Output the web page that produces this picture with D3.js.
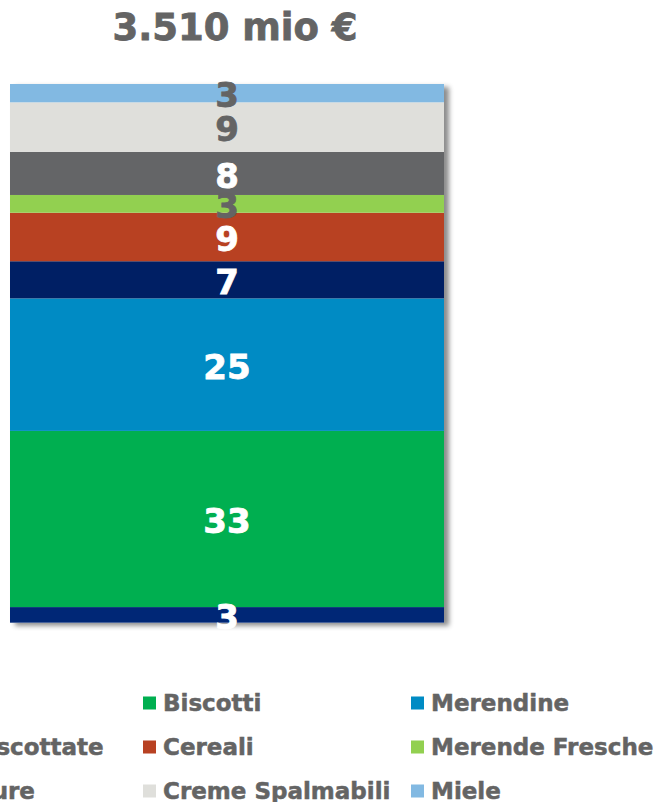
<!DOCTYPE html>
<html>
<head>
<meta charset="utf-8">
<script src="https://cdn.jsdelivr.net/npm/d3@7"></script>
<style>
  body { margin: 0; background: #fff; }
  svg { display: block; font-family: "DejaVu Sans", Verdana, sans-serif; font-weight: bold; }
</style>
</head>
<body>
<script>
// series, bottom to top (share of value, %)
var categories = ["Cracker", "Biscotti", "Merendine", "Fette Biscottate", "Cereali",
  "Merende Fresche", "Confetture", "Creme Spalmabili", "Miele"];
var values = [2.9, 32.7, 24.6, 6.9, 9.0, 3.3, 8.0, 9.2, 3.4];
var title = "3.510 mio €";

var colors = ["#002776", "#00AF50", "#008BC4", "#001F64", "#B84122",
  "#92D050", "#646567", "#DFDFDB", "#82B9E2"];
var darkLabel = ["Merende Fresche", "Creme Spalmabili", "Miele"];

var W = 661, H = 802;
var svg = d3.select("body").append("svg").attr("width", W).attr("height", H);

var defs = svg.append("defs");
var f = defs.append("filter").attr("id", "shadow")
  .attr("x", "-10%").attr("y", "-10%").attr("width", "130%").attr("height", "130%");
f.append("feDropShadow").attr("dx", 5).attr("dy", 3).attr("stdDeviation", 2.5)
  .attr("flood-color", "#000").attr("flood-opacity", 0.45);

var x = d3.scaleBand().domain(["tot"]).range([10, 444]).padding(0);
var y = d3.scaleLinear().domain([0, 100]).range([622.7, 84]);
var color = d3.scaleOrdinal().domain(categories).range(colors);

var stacked = [];
var acc = 0;
categories.forEach(function(c, i) {
  stacked.push({ cat: c, v: values[i], y0: acc, y1: acc + values[i] });
  acc += values[i];
});
y.domain([0, acc]);

svg.append("text")
  .attr("x", 235).attr("y", 40)
  .attr("text-anchor", "middle")
  .attr("font-size", 37)
  .attr("fill", "#646464")
  .attr("stroke", "#646464").attr("stroke-width", 0.8)
  .text(title);

// shadow behind bar
svg.append("rect")
  .attr("x", x("tot")).attr("width", x.bandwidth())
  .attr("y", y(acc)).attr("height", y(0) - y(acc))
  .attr("fill", "#fff")
  .attr("filter", "url(#shadow)");

var bar = svg.append("g");
bar.selectAll("rect").data(stacked).enter().append("rect")
  .attr("x", x("tot"))
  .attr("width", x.bandwidth())
  .attr("y", function(d) { return y(d.y1); })
  .attr("height", function(d) { return y(d.y0) - y(d.y1); })
  .attr("fill", function(d) { return color(d.cat); });

function labColor(d) { return darkLabel.indexOf(d.cat) >= 0 ? "#646464" : "#fff"; }
bar.selectAll("text").data(stacked).enter().append("text")
  .attr("x", x("tot") + x.bandwidth() / 2)
  .attr("y", function(d) { return (y(d.y0) + y(d.y1)) / 2; })
  .attr("dy", "0.42em")
  .attr("text-anchor", "middle")
  .attr("font-size", 34)
  .attr("fill", labColor)
  .attr("stroke", labColor).attr("stroke-width", 0.8)
  .text(function(d) { return d3.format(".0f")(d.v); });

// legend, 3 columns, row-major
var colX = [-125, 143, 411];
var rowY = [703, 747, 791];
var leg = svg.append("g").selectAll("g").data(categories).enter().append("g")
  .attr("transform", function(d, i) {
    return "translate(" + colX[i % 3] + "," + rowY[Math.floor(i / 3)] + ")";
  });
leg.append("rect")
  .attr("x", 0).attr("y", -6.5).attr("width", 13).attr("height", 13)
  .attr("fill", function(d) { return color(d); });
leg.append("text")
  .attr("x", 20).attr("y", 0).attr("dy", "0.36em")
  .attr("font-size", 23)
  .attr("fill", "#646464")
  .attr("stroke", "#646464").attr("stroke-width", 0.5)
  .text(function(d) { return d; });
</script>
</body>
</html>
